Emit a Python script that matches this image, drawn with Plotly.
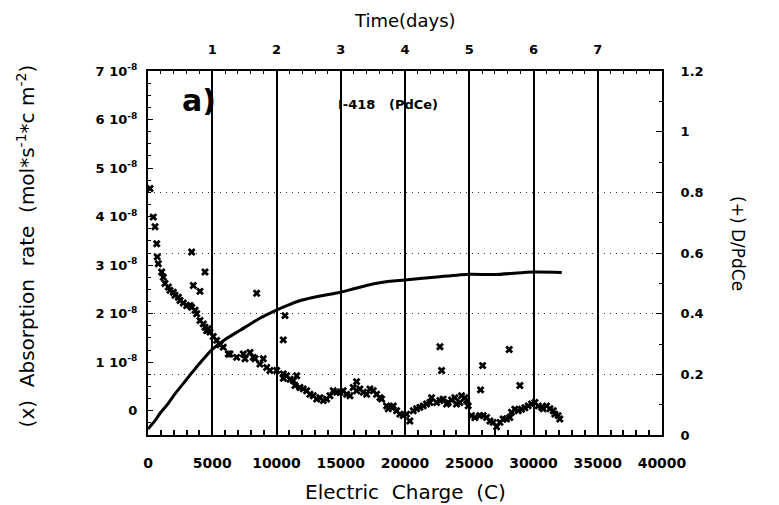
import numpy as np
import plotly.graph_objects as go

# ---------------- data ----------------
# D/PdCe loading (right axis) vs electric charge (C)
charge_D = [0, 500, 1000, 1500, 2000, 2750, 3700, 5000, 6000, 7200, 8700, 10000,
            11000, 12000, 13100, 14900, 16000, 17500, 18800, 20000, 22700, 25000,
            27000, 30000, 32200]
d_ratio = [0.02, 0.045, 0.075, 0.10, 0.13, 0.17, 0.22, 0.282, 0.315, 0.346, 0.385, 0.412,
           0.43, 0.445, 0.456, 0.47, 0.482, 0.498, 0.507, 0.511, 0.522, 0.53,
           0.529, 0.537, 0.536]

# absorption rate (left axis, in units of 1e-8 mol s-1 cm-2) vs electric charge (C)
charge_rate = [156, 412, 545, 677, 720, 1066, 1323, 1712, 2100, 2490, 3010, 3400, 3790,
               4045, 4435, 4824, 5345, 5858, 6380, 6900, 7415, 7936, 8325, 8970, 9235,
               10010, 10526, 10790, 11305, 11570, 11826, 12347, 12860, 13380, 13900,
               14416, 14938, 15460, 15970, 16490, 17015, 17530, 18050, 18570, 18960,
               19350, 19860, 20380, 20640, 21160, 21680, 22070, 22460, 22970, 23360,
               23880, 24270, 24660, 24920, 25180, 25830, 26350, 26860, 27130, 27640,
               28160, 28550, 29070, 29590, 30110, 30630, 31020, 31540, 31920, 32050]
rate_1e8 = [4.58, 3.99, 3.79, 3.44, 3.17, 2.86, 2.62, 2.48, 2.38, 2.27, 2.17, 2.13, 2.0,
            1.86, 1.72, 1.62, 1.45, 1.31, 1.17, 1.10, 1.17, 1.20, 1.07, 1.07, 0.89,
            0.83, 0.76, 0.72, 0.62, 0.72, 0.48, 0.41, 0.31, 0.27, 0.24,
            0.41, 0.38, 0.34, 0.48, 0.45, 0.34, 0.41, 0.27, 0.10, 0.07,
            0.0, -0.10, -0.21, 0.0, 0.07, 0.14, 0.27, 0.17, 0.24, 0.17,
            0.27, 0.17, 0.27, 0.10, -0.10, -0.10, -0.14, -0.24, -0.33, -0.17,
            -0.14, 0.03, 0.03, 0.10, 0.17, 0.07, 0.10, 0.0, -0.10, -0.17]

# further points read along the width of the same noisy band
charge_band = [800, 1190, 1580, 1970, 2360, 2750, 3270, 3660, 4300, 4567, 4690, 5080,
               5600, 6250, 7550, 8190, 8710, 9490, 10530, 11050, 11440, 12080, 12600,
               13130, 13640, 14160, 14680, 15190, 15720, 16240, 16750, 17270, 17790,
               18180, 18700, 19090, 19600, 20120, 20900, 21420, 21940, 22720, 23240,
               23630, 24010, 24400, 24790, 25440, 26090, 26610, 27390, 27900, 28290,
               28810, 29330, 29850, 30370, 30760, 31280, 31660]
rate_band_1e8 = [3.03, 2.75, 2.55, 2.44, 2.34, 2.22, 2.17, 2.07, 1.79, 1.65, 1.69, 1.53,
                 1.36, 1.17, 1.07, 1.10, 0.96, 0.83, 0.67, 0.65, 0.52, 0.45, 0.34,
                 0.24, 0.21, 0.31, 0.38, 0.41, 0.31, 0.41, 0.38, 0.45, 0.34,
                 0.24, 0.04, 0.10, -0.07, -0.07, 0.04, 0.10, 0.17, 0.21, 0.14,
                 0.22, 0.14, 0.31, 0.21, -0.14, -0.10, -0.21, -0.24, -0.17, -0.03,
                 0.0, 0.06, 0.14, 0.10, 0.04, 0.04, -0.07]

# scattered absorption-rate points away from the main band
charge_out = [3400, 4435, 3526, 4045, 8457, 10660, 10526, 16230, 22720, 22850,
              26040, 25880, 28110, 28940]
rate_out_1e8 = [3.27, 2.86, 2.58, 2.46, 2.42, 1.96, 1.46, 0.60, 1.32, 0.83,
                0.93, 0.43, 1.26, 0.52]

charge_ticks = [0, 5000, 10000, 15000, 20000, 25000, 30000, 35000, 40000]
charge_ticklabels = [str(v) for v in charge_ticks]
rate_ticks_1e8 = [0, 1, 2, 3, 4, 5, 6, 7]
rate_ticklabels = ["0"] + [f"{v} 10<sup>-8</sup>" for v in rate_ticks_1e8[1:]]
d_ticks = [0, 0.2, 0.4, 0.6, 0.8, 1.0, 1.2]
d_ticklabels = ["0", "0.2", "0.4", "0.6", "0.8", "1", "1.2"]
d_grid = [0.2, 0.4, 0.6, 0.8]
day_ticks = [1, 2, 3, 4, 5, 6, 7]

# ---------------- figure ----------------
FONT = "DejaVu Sans"

def tf(size):
    return dict(family=FONT, size=size, color="black", weight="bold")

marker = dict(symbol="x", size=7, color="black", line=dict(width=0))

fig = go.Figure()
fig.add_trace(go.Scatter(x=charge_rate, y=np.array(rate_1e8) * 1e-8, mode="markers",
                         marker=marker, xaxis="x", yaxis="y", showlegend=False, hoverinfo="skip"))
fig.add_trace(go.Scatter(x=charge_band, y=np.array(rate_band_1e8) * 1e-8, mode="markers",
                         marker=marker, xaxis="x", yaxis="y", showlegend=False, hoverinfo="skip"))
fig.add_trace(go.Scatter(x=charge_out, y=np.array(rate_out_1e8) * 1e-8, mode="markers",
                         marker=marker, xaxis="x", yaxis="y", showlegend=False, hoverinfo="skip"))
fig.add_trace(go.Scatter(x=charge_D, y=d_ratio, mode="lines",
                         line=dict(color="black", width=3, shape="spline", smoothing=0.6),
                         xaxis="x", yaxis="y2", showlegend=False, hoverinfo="skip"))
fig.add_trace(go.Scatter(x=[], y=[], xaxis="x", yaxis="y3", showlegend=False))
fig.add_trace(go.Scatter(x=[], y=[], xaxis="x2", yaxis="y", showlegend=False))

axis_common = dict(showline=True, linecolor="black", linewidth=2, ticks="inside",
                   tickcolor="black", zeroline=False)

fig.update_layout(
    width=771, height=497,
    margin=dict(l=140, r=117, t=63, b=70, autoexpand=False),
    paper_bgcolor="white", plot_bgcolor="white",
    font=dict(family=FONT, color="black"),
    xaxis=dict(range=[0, 40000], tickvals=charge_ticks, ticktext=charge_ticklabels,
               ticklen=6, tickwidth=1.5, tickfont=tf(14),
               showgrid=True, gridcolor="black", gridwidth=1.8,
               minor=dict(dtick=1000, ticks="inside", ticklen=5, tickwidth=1.5,
                          tickcolor="black", showgrid=False),
               ticklabelstandoff=14, anchor="y", **axis_common),
    xaxis2=dict(range=[0, 8], tickvals=day_ticks, overlaying="x", side="top", anchor="y",
                ticklen=5, showgrid=False, tickfont=tf(13),
                minor=dict(dtick=0.2, ticks="inside", ticklen=3, tickcolor="black", showgrid=False),
                ticklabelstandoff=10, **axis_common),
    yaxis=dict(range=[-0.5e-8, 7e-8], tickvals=[v * 1e-8 for v in rate_ticks_1e8],
               ticktext=rate_ticklabels, ticklen=5, showgrid=False, tickfont=tf(13),
               minor=dict(dtick=0.25e-8, ticks="inside", ticklen=3, tickcolor="black", showgrid=False),
               ticklabelstandoff=6, anchor="x", **axis_common),
    yaxis2=dict(range=[0, 1.2], tickvals=d_ticks, ticktext=d_ticklabels, overlaying="y",
                side="right", anchor="x", ticklen=6, showgrid=False, tickfont=tf(13),
                minor=dict(dtick=0.1, ticks="inside", ticklen=3, tickcolor="black", showgrid=False),
                ticklabelstandoff=14, **axis_common),
    yaxis3=dict(range=[0, 1.2], tickvals=d_grid, overlaying="y", side="right", anchor="x",
                showticklabels=False, ticks="", showline=False, zeroline=False,
                showgrid=True, gridcolor="#333", gridwidth=1, griddash="1px,5px"),
)

NB = "\u00a0"
title_font = dict(family=FONT, size=20, color="black")
common_ann = dict(xref="paper", yref="paper", showarrow=False, xanchor="center", yanchor="middle")
fig.add_annotation(text=f"Electric{NB}{NB}Charge{NB}{NB}(C)", x=0.5, y=-0.157,
                   font=title_font, **common_ann)
fig.add_annotation(text="Time(days)", x=0.5, y=1.14,
                   font=dict(family=FONT, size=18, color="black"), **common_ann)
fig.add_annotation(
    text=f"(x){NB}{NB}Absorption{NB}{NB}rate{NB}{NB}(mol*s<sup>-1</sup>*c{NB}m<sup>-2</sup>)",
    x=-0.238, y=0.52, textangle=-90, font=dict(family=FONT, size=20, color="black"),
    **common_ann)
fig.add_annotation(text="(+) D/PdCe", x=1.148, y=0.527, textangle=90,
                   font=dict(family=FONT, size=17, color="black"), **common_ann)
fig.add_annotation(text="a)", x=0.099, y=0.918,
                   font=dict(family=FONT, size=30, color="black", weight="bold"), **common_ann)
fig.add_annotation(text=f"I-418{NB}{NB}{NB}(PdCe)", x=0.467, y=0.907,
                   font=dict(family=FONT, size=13, color="black", weight="bold"), **common_ann)

fig.write_html("out.html")
